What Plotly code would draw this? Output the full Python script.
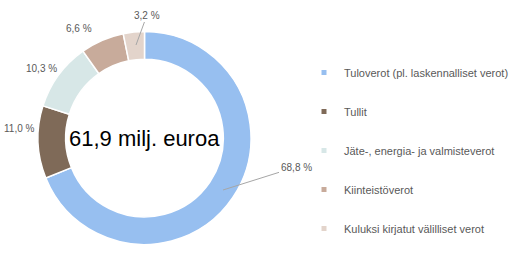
import plotly.graph_objects as go

labels = ["Tuloverot (pl. laskennalliset verot)", "Tullit",
          "Jäte-, energia- ja valmisteverot", "Kiinteistöverot",
          "Kuluksi kirjatut välilliset verot"]
shares = [68.8, 11.0, 10.3, 6.6, 3.2]
colors = ["#97BFF0", "#7F6A58", "#D7E7E7", "#C8AB9B", "#E3D4CB"]
center_text = "61,9 milj. euroa"

W, H = 519, 256
cx, cy, R = 144.5, 138.0, 106.5

fig = go.Figure()
fig.add_trace(go.Pie(
    labels=labels, values=shares, sort=False, direction="clockwise", rotation=0,
    hole=0.74, marker=dict(colors=colors, line=dict(color="white", width=1.5)),
    textinfo="none", showlegend=False, hoverinfo="label+percent",
    domain=dict(x=[(cx - R) / W, (cx + R) / W], y=[(H - cy - R) / H, (H - cy + R) / H]),
))
for i, (lab, col) in enumerate(zip(labels, colors)):
    fig.add_trace(go.Scatter(
        x=[None], y=[None], mode="markers", name=lab, legendgroup=str(i),
        marker=dict(symbol="square", size=5, color=col),
    ))

def fmt(v):
    return f"{v:.1f}".replace(".", ",") + " %"

# label placements (pixel coords of text centre) and optional leader-line tips
label_pos = [(296, 167, 223, 190), (19, 128, None, None), (41, 68, None, None),
             (79, 28, None, None), (147, 15, 136, 45)]
lab_font = dict(size=10, color="#595959", family="Arial")
for v, (tx, ty, px, py) in zip(shares, label_pos):
    if px is None:
        fig.add_annotation(x=tx / W, y=1 - ty / H, xref="paper", yref="paper",
                           xanchor="center", yanchor="middle",
                           text=fmt(v), showarrow=False, font=lab_font)
    else:
        fig.add_annotation(x=px / W, y=1 - py / H, xref="paper", yref="paper",
                           text=fmt(v), showarrow=True, arrowhead=0, arrowwidth=1,
                           arrowcolor="#A6A6A6", ax=tx - px, ay=ty - py,
                           font=lab_font)

fig.add_annotation(x=cx / W, y=1 - cy / H, xref="paper", yref="paper",
                   xanchor="center", yanchor="middle",
                   text=center_text, showarrow=False,
                   font=dict(size=22, color="#000000", family="Arial"))

fig.update_layout(
    width=W, height=H, margin=dict(l=0, r=0, t=0, b=0),
    paper_bgcolor="white", plot_bgcolor="white",
    xaxis=dict(visible=False), yaxis=dict(visible=False),
    legend=dict(x=304 / W, y=1 - 58 / H, xanchor="left", yanchor="top",
                font=dict(size=11, color="#595959", family="Arial"),
                tracegroupgap=20, itemwidth=30, bgcolor="rgba(0,0,0,0)"),
)
fig.write_html("out.html")
